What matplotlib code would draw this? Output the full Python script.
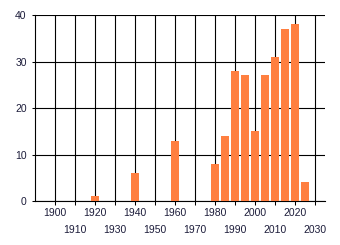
import matplotlib
matplotlib.use('Agg')
import matplotlib.pyplot as plt

# bar data: year -> count
years = [1920, 1940, 1960, 1980, 1985, 1990, 1995, 2000, 2005, 2010, 2015, 2020, 2025]
counts = [1, 6, 13, 8, 14, 28, 27, 15, 27, 31, 37, 38, 4]

# staggered decade labels
row1_ticks = [1900, 1920, 1940, 1960, 1980, 2000, 2020]
row2_ticks = [1910, 1930, 1950, 1970, 1990, 2010, 2030]
y_ticks = [0, 10, 20, 30, 40]

plt.rcParams['font.family'] = ['Liberation Sans', 'DejaVu Sans']
txt_color = '#1c1c3a'

fig = plt.figure(figsize=(3.4, 2.45), dpi=100)
ax = fig.add_axes([35/340, 44/245, 290/340, 186/245])

ax.bar(years, counts, width=4, color='#ff7f40', zorder=3)

ax.set_xlim(1890, 2035)
ax.set_ylim(0, 40)

ax.set_xticks(row1_ticks)
ax.set_xticks(row2_ticks, minor=True)
ax.set_xticklabels([str(t) for t in row1_ticks])
ax.set_xticklabels([str(t) for t in row2_ticks], minor=True)
ax.set_yticks(y_ticks)

ax.tick_params(axis='x', which='major', length=3, width=0.75, pad=2,
               labelsize=7.5, labelcolor=txt_color)
ax.tick_params(axis='x', which='minor', length=3, width=0.75, pad=14,
               labelsize=7.5, labelcolor=txt_color)
ax.tick_params(axis='y', length=2, width=0.75, pad=4,
               labelsize=7.5, labelcolor=txt_color)

ax.grid(True, which='both', color='black', linewidth=0.8, zorder=1)
ax.set_axisbelow(True)

for s in ['top', 'right']:
    ax.spines[s].set_visible(False)
ax.spines['left'].set_linewidth(0.8)
ax.spines['bottom'].set_linewidth(0.8)

plt.savefig('out.png', dpi=100)
